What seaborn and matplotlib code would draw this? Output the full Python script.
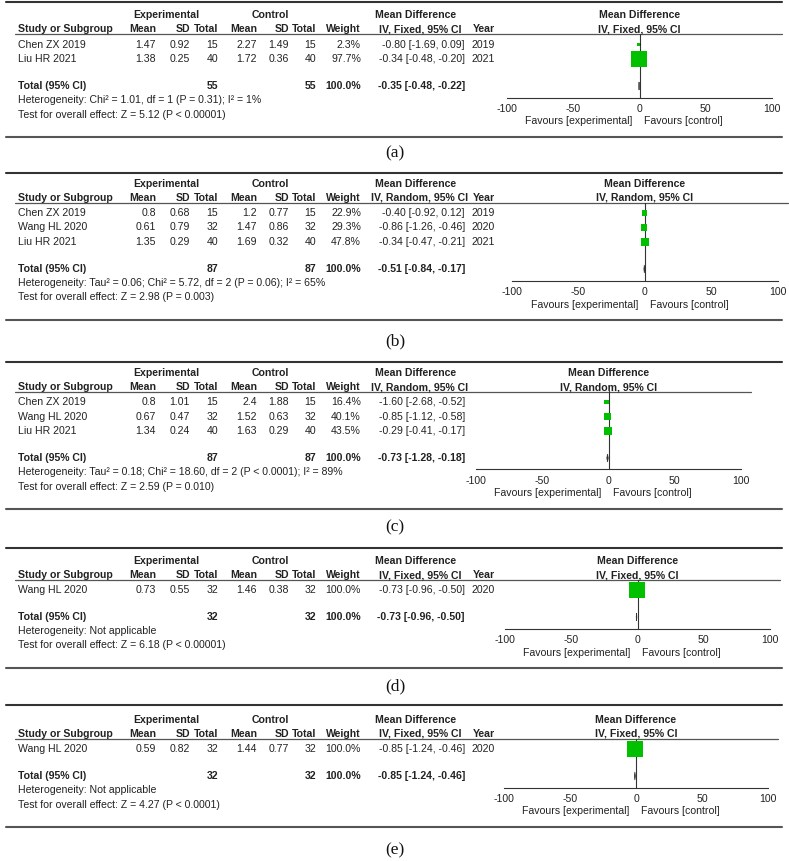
import numpy as np
import pandas as pd
import matplotlib
matplotlib.use("Agg")
import matplotlib.pyplot as plt
import seaborn as sns

# ---- data, one entry per panel (a)-(e) ----
panel_label = ["(a)", "(b)", "(c)", "(d)", "(e)"]
method = ["Fixed", "Random", "Random", "Fixed", "Fixed"]
study = [["Chen ZX 2019", "Liu HR 2021"],
         ["Chen ZX 2019", "Wang HL 2020", "Liu HR 2021"],
         ["Chen ZX 2019", "Wang HL 2020", "Liu HR 2021"],
         ["Wang HL 2020"],
         ["Wang HL 2020"]]
exp_mean = [[1.47, 1.38], [0.8, 0.61, 1.35], [0.8, 0.67, 1.34], [0.73], [0.59]]
exp_sd = [[0.92, 0.25], [0.68, 0.79, 0.29], [1.01, 0.47, 0.24], [0.55], [0.82]]
exp_n = [[15, 40], [15, 32, 40], [15, 32, 40], [32], [32]]
ctl_mean = [[2.27, 1.72], [1.2, 1.47, 1.69], [2.4, 1.52, 1.63], [1.46], [1.44]]
ctl_sd = [[1.49, 0.36], [0.77, 0.86, 0.32], [1.88, 0.63, 0.29], [0.38], [0.77]]
ctl_n = [[15, 40], [15, 32, 40], [15, 32, 40], [32], [32]]
weight = [[2.3, 97.7], [22.9, 29.3, 47.8], [16.4, 40.1, 43.5], [100.0], [100.0]]
md = [[-0.80, -0.34], [-0.40, -0.86, -0.34], [-1.60, -0.85, -0.29], [-0.73], [-0.85]]
md_lo = [[-1.69, -0.48], [-0.92, -1.26, -0.47], [-2.68, -1.12, -0.41], [-0.96], [-1.24]]
md_hi = [[0.09, -0.20], [0.12, -0.46, -0.21], [-0.52, -0.58, -0.17], [-0.50], [-0.46]]
year = [[2019, 2021], [2019, 2020, 2021], [], [2020], [2020]]
total_exp_n = [55, 87, 87, 32, 32]
total_ctl_n = [55, 87, 87, 32, 32]
total_md = [-0.35, -0.51, -0.73, -0.73, -0.85]
total_lo = [-0.48, -0.84, -1.28, -0.96, -1.24]
total_hi = [-0.22, -0.17, -0.18, -0.50, -0.46]
heterogeneity = [
    "Heterogeneity: Chi² = 1.01, df = 1 (P = 0.31); I² = 1%",
    "Heterogeneity: Tau² = 0.06; Chi² = 5.72, df = 2 (P = 0.06); I² = 65%",
    "Heterogeneity: Tau² = 0.18; Chi² = 18.60, df = 2 (P < 0.0001); I² = 89%",
    "Heterogeneity: Not applicable",
    "Heterogeneity: Not applicable",
]
overall = [
    "Test for overall effect: Z = 5.12 (P < 0.00001)",
    "Test for overall effect: Z = 2.98 (P = 0.003)",
    "Test for overall effect: Z = 2.59 (P = 0.010)",
    "Test for overall effect: Z = 6.18 (P < 0.00001)",
    "Test for overall effect: Z = 4.27 (P < 0.0001)",
]
axis_ticks = [-100, -50, 0, 50, 100]

# ---- layout (pixels) ----
W, H = 789, 861
top_line_y = [2, 173, 362, 548, 705]
first_row_y = [44.5, 213, 402, 590, 749]
label_y = [153, 341, 527, 686, 850]
plot_px = [(507, 772), (512, 778), (476, 741), (505, 770), (504, 768)]
col_right = [156, 190, 218, 257, 289, 316, 361]
CI_RIGHT, YEAR_RIGHT = 465, 495
ROW_STEP = 14.5
FS = 7.6
TXT = "#222222"
GREEN = "#00c000"

sns.set_theme(style="white")
plt.rcParams["font.family"] = ["Liberation Sans", "DejaVu Sans"]

fig = plt.figure(figsize=(W / 100, H / 100), dpi=100)
bg = fig.add_axes([0, 0, 1, 1])
bg.set_xlim(0, W)
bg.set_ylim(H, 0)
bg.axis("off")


def txt(x, y, s, ha="left", bold=False, **kw):
    bg.text(x, y, s, ha=ha, va="center", fontsize=FS, color=TXT,
            fontweight="bold" if bold else "normal", **kw)


def g(v):
    return f"{v:g}"


def ci(m, lo, hi):
    return f"{m:.2f} [{lo:.2f}, {hi:.2f}]"


for k in range(5):
    r0 = first_row_y[k]
    n = len(study[k])
    rows = [r0 + i * ROW_STEP for i in range(n)]
    tot_y = rows[-1] + 27
    het_y = tot_y + 14
    test_y = tot_y + 28.5
    bot_y = test_y + 22
    axis_y = tot_y + 11.5
    line_y = r0 - 10.5
    x0, x1 = plot_px[k]
    zero_px = (x0 + x1) / 2
    has_year = len(year[k]) > 0

    # frame lines
    bg.plot([6, 782], [top_line_y[k]] * 2, color="#333333", lw=1.5)
    bg.plot([6, 782], [bot_y] * 2, color="#555555", lw=1.5)
    bg.plot([15, x1 + 10], [line_y] * 2, color="#555555", lw=0.9)

    # headers
    hy1, hy2 = r0 - 29, r0 - 15
    txt(166, hy1, "Experimental", ha="center", bold=True)
    txt(270, hy1, "Control", ha="center", bold=True)
    txt(416, hy1, "Mean Difference", ha="center", bold=True)
    txt(zero_px, hy1, "Mean Difference", ha="center", bold=True)
    txt(18, hy2, "Study or Subgroup", bold=True)
    for x, s in zip(col_right, ["Mean", "SD", "Total", "Mean", "SD", "Total", "Weight"]):
        txt(x, hy2, s, ha="right", bold=True)
    txt(420, hy2, f"IV, {method[k]}, 95% CI", ha="center", bold=True)
    txt(zero_px, hy2, f"IV, {method[k]}, 95% CI", ha="center", bold=True)
    if has_year:
        txt(YEAR_RIGHT, hy2, "Year", ha="right", bold=True)

    # study rows
    for i, y in enumerate(rows):
        txt(18, y, study[k][i])
        vals = [g(exp_mean[k][i]), g(exp_sd[k][i]), str(exp_n[k][i]),
                g(ctl_mean[k][i]), g(ctl_sd[k][i]), str(ctl_n[k][i]),
                f"{weight[k][i]:.1f}%"]
        for x, s in zip(col_right, vals):
            txt(x, y, s, ha="right")
        txt(CI_RIGHT, y, ci(md[k][i], md_lo[k][i], md_hi[k][i]), ha="right")
        if has_year:
            txt(YEAR_RIGHT, y, str(year[k][i]), ha="right")

    # total rows
    txt(18, tot_y, "Total (95% CI)", bold=True)
    txt(col_right[2], tot_y, str(total_exp_n[k]), ha="right", bold=True)
    txt(col_right[5], tot_y, str(total_ctl_n[k]), ha="right", bold=True)
    txt(col_right[6], tot_y, "100.0%", ha="right", bold=True)
    txt(CI_RIGHT, tot_y, ci(total_md[k], total_lo[k], total_hi[k]), ha="right", bold=True)
    txt(18, het_y, heterogeneity[k])
    txt(18, test_y, overall[k])

    # forest plot
    ax = fig.add_axes([x0 / W, 1 - axis_y / H, (x1 - x0) / W, (axis_y - line_y) / H])
    ax.set_facecolor("none")
    scale = 1.6 if method[k] == "Fixed" else 1.15
    df = pd.DataFrame({"md": md[k], "y": rows, "lo": md_lo[k], "hi": md_hi[k],
                       "w": weight[k]})
    df["size"] = (scale * np.sqrt(df["w"]) * 0.72) ** 2
    ax.axvline(0, color="#333333", lw=0.8, zorder=1)
    ax.hlines(df["y"], df["lo"], df["hi"], color="black", lw=0.8, zorder=2)
    sns.scatterplot(data=df, x="md", y="y", marker="s", s=df["size"].to_numpy(),
                    color=GREEN, linewidth=0, ax=ax, legend=False,
                    clip_on=False, zorder=3)
    ax.fill([total_lo[k], total_md[k], total_hi[k], total_md[k]],
            [tot_y, tot_y - 4, tot_y, tot_y + 4],
            facecolor="#333333", edgecolor="#333333", lw=0.5, zorder=3)
    ax.set_xlim(-100, 100)
    ax.set_ylim(axis_y, line_y)
    ax.set_xlabel("")
    ax.set_ylabel("")
    ax.set_yticks([])
    ax.set_xticks(axis_ticks)
    ax.set_xticklabels([str(t) for t in axis_ticks])
    for side in ["top", "left", "right"]:
        ax.spines[side].set_visible(False)
    ax.spines["bottom"].set_color("#333333")
    ax.spines["bottom"].set_linewidth(0.8)
    ax.tick_params(axis="x", direction="inout", length=7, width=0.8,
                   colors="#333333", labelsize=FS, pad=1.5)
    for lab in ax.get_xticklabels():
        lab.set_color(TXT)

    txt(zero_px - 7, axis_y + 24, "Favours [experimental]", ha="right")
    txt(zero_px + 5, axis_y + 24, "Favours [control]")

    # panel label
    bg.text(395, label_y[k], panel_label[k], ha="center", va="center",
            fontsize=12.5, color="#111111", family=["Liberation Serif", "DejaVu Serif"])

fig.savefig("out.png", dpi=100, facecolor="white")
